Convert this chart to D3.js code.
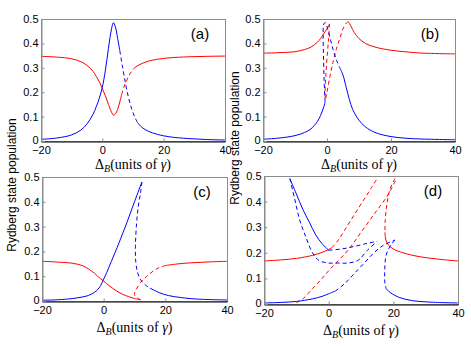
<!DOCTYPE html>
<html>
<head>
<meta charset="utf-8">
<script src="https://cdn.jsdelivr.net/npm/d3@7"></script>
<style>
  body { margin: 0; background: #fff; }
  svg { display: block; }
  .tick text { font-family: "Liberation Sans", Arial, sans-serif; font-size: 11px; fill: #000; }
</style>
</head>
<body>
<script>
var xTicks = [-20, 0, 20, 40];
var yTicks = [0, 0.1, 0.2, 0.3, 0.4, 0.5];
var panelNames = ['(a)', '(b)', '(c)', '(d)'];
var yLabel = 'Rydberg state population';

// panel (a)
var aRed1 = [[-20,0.347],[-15,0.344],[-10,0.337],[-7,0.325],[-5,0.31],[-3,0.285],[-2,0.265],[-1,0.243],[0,0.215],[1,0.185],[2,0.15],[3,0.118],[3.6,0.106],[4.2,0.11],[5,0.13],[5.8,0.165],[6.3,0.19]];
var aRed2 = [[6.3,0.19],[7,0.22],[8,0.25],[9,0.275],[10,0.293]];
var aRed3 = [[10,0.293],[11,0.305],[13,0.318],[15,0.327],[18,0.335],[22,0.341],[28,0.345],[34,0.347],[40,0.348]];
var aBlue1 = [[-20,0.007],[-15,0.012],[-10,0.025],[-7,0.045],[-5,0.07],[-3,0.11],[-2,0.14],[-1,0.175],[0,0.22],[1,0.29],[2,0.38],[3,0.46],[3.6,0.485],[4.2,0.47],[5,0.42],[5.7,0.37]];
var aBlue2 = [[5.7,0.37],[6.5,0.31],[7.5,0.24],[8.5,0.18],[9.5,0.135],[10.5,0.1],[11.5,0.075]];
var aBlue3 = [[11.5,0.075],[13,0.055],[15,0.04],[18,0.027],[22,0.017],[28,0.01],[34,0.006],[40,0.004]];

// panel (b)
var bRed1 = [[-20,0.36],[-15,0.362],[-10,0.366],[-7,0.375],[-5,0.385],[-3,0.405],[-2,0.42],[-1,0.44],[0,0.46],[0.8,0.48]];
var bRed2 = [[0.8,0.48],[0.5,0.42],[0,0.34],[-0.4,0.26],[-0.6,0.2],[-0.5,0.17],[0,0.2],[1,0.27],[2,0.33],[3,0.38],[4,0.42],[5,0.46],[5.8,0.48]];
var bRed3 = [[5.8,0.48],[6.6,0.488],[7.5,0.47],[8.5,0.445],[10,0.42],[12,0.4],[15,0.385],[20,0.372],[25,0.365],[30,0.36],[40,0.357]];
var bBlue1 = [[-20,0.007],[-15,0.012],[-10,0.022],[-7,0.035],[-5,0.05],[-3,0.08],[-2,0.105],[-1,0.14],[-0.6,0.16]];
var bBlue2 = [[-0.6,0.16],[-0.9,0.25],[-1.1,0.35],[-1.2,0.43],[-1,0.48],[-0.5,0.485],[0.2,0.46],[1,0.42],[2,0.37],[3,0.33],[4,0.3]];
var bBlue3 = [[4,0.3],[5,0.27],[6,0.22],[7,0.17],[8,0.13],[10,0.085],[12,0.058],[15,0.035],[20,0.018],[25,0.011],[30,0.008],[40,0.005]];

// panel (c)
var cRed1 = [[-20,0.16],[-15,0.157],[-10,0.152],[-7,0.143],[-5,0.13],[-3,0.112],[-2,0.1],[-1,0.09],[0,0.08],[2,0.06],[4,0.042],[6,0.028],[8,0.018],[10,0.01],[12,0.005]];
var cRed2 = [[12,0.005],[11,0.012],[10,0.025],[10.5,0.045],[12,0.075],[14,0.1],[16,0.12],[18,0.135],[20,0.143]];
var cRed3 = [[20,0.143],[23,0.148],[26,0.152],[30,0.155],[35,0.158],[40,0.16]];
var cBlue1 = [[-20,0.003],[-15,0.005],[-10,0.01],[-7,0.016],[-5,0.022],[-3,0.035],[-2,0.045],[-1,0.062],[0,0.088],[1,0.115],[2.5,0.16],[5,0.235],[7.5,0.315],[10,0.4],[12.4,0.48]];
var cBlue2 = [[12.4,0.48],[12,0.44],[11.2,0.38],[10.6,0.3],[10.3,0.22],[10.4,0.16],[11,0.115],[12,0.085],[13.5,0.065],[15,0.052]];
var cBlue3 = [[15,0.052],[18,0.034],[21,0.022],[25,0.014],[30,0.008],[40,0.004]];

// panel (d)
var dRed1 = [[-20,0.168],[-15,0.172],[-10,0.178],[-5,0.19],[-2,0.202],[0,0.213],[1,0.22]];
var dRed2 = [[1,0.22],[3,0.25],[5,0.29],[8,0.35],[11,0.41],[13,0.45],[15,0.49]];
var dRed3 = [[-10,0.005],[-8,0.02],[-5,0.06],[-2,0.1],[0,0.13],[3,0.17],[6,0.21],[10,0.28],[14,0.35],[18,0.42],[21,0.49]];
var dRed4 = [[20.5,0.49],[19,0.45],[18,0.39],[17.5,0.33],[17.4,0.28]];
var dRed5 = [[17.4,0.28],[17.7,0.25],[18.5,0.23],[20,0.215],[23,0.2],[28,0.185],[34,0.175],[40,0.168]];
var dBlue1 = [[-20,0.004],[-15,0.006],[-10,0.01],[-5,0.02],[-2,0.03],[0,0.04],[2,0.05]];
var dBlue2 = [[2,0.05],[5,0.08],[8,0.12],[11,0.16],[14,0.2],[17,0.23],[20.5,0.25]];
var dBlue3 = [[-12,0.49],[-10,0.43],[-8,0.37],[-6,0.32],[-4,0.27],[-2,0.235],[0,0.21]];
var dBlue4 = [[-12,0.49],[-10.5,0.41],[-9,0.33],[-7,0.26],[-5,0.2],[-3,0.17],[0,0.16],[3,0.16],[6,0.16],[9,0.17],[12,0.21],[15,0.245]];
var dBlue5 = [[20.5,0.25],[19.5,0.235],[18.3,0.21],[17.6,0.18],[17.4,0.15],[17.3,0.12],[17.4,0.08],[17.8,0.06]];
var dBlue6 = [[17.8,0.06],[19,0.045],[22,0.025],[26,0.013],[32,0.007],[40,0.004]];
var dBlue7 = [[0,0.21],[4,0.215],[8,0.225],[12,0.237],[15,0.245]];

var panels = [
  { box: [41, 225, 19, 141], name: panelNames[0], curves: [
      { d: aRed1, c: 'red' }, { d: aRed2, c: 'red', dash: true }, { d: aRed3, c: 'red' },
      { d: aBlue1, c: 'blue' }, { d: aBlue2, c: 'blue', dash: true }, { d: aBlue3, c: 'blue' }] },
  { box: [263, 455, 19, 141], name: panelNames[1], curves: [
      { d: bRed1, c: 'red' }, { d: bRed2, c: 'red', dash: true }, { d: bRed3, c: 'red' },
      { d: bBlue1, c: 'blue' }, { d: bBlue2, c: 'blue', dash: true }, { d: bBlue3, c: 'blue' }] },
  { box: [42, 227, 177, 301], name: panelNames[2], curves: [
      { d: cRed1, c: 'red' }, { d: cRed2, c: 'red', dash: true }, { d: cRed3, c: 'red' },
      { d: cBlue1, c: 'blue' }, { d: cBlue2, c: 'blue', dash: true }, { d: cBlue3, c: 'blue' }] },
  { box: [264, 458, 176, 304], name: panelNames[3], curves: [
      { d: dRed1, c: 'red' }, { d: dRed2, c: 'red', dash: true }, { d: dRed3, c: 'red', dash: true },
      { d: dRed4, c: 'red', dash: true }, { d: dRed5, c: 'red' },
      { d: dBlue1, c: 'blue' }, { d: dBlue2, c: 'blue', dash: true }, { d: dBlue3, c: 'blue' },
      { d: dBlue4, c: 'blue', dash: true }, { d: dBlue5, c: 'blue', dash: true }, { d: dBlue6, c: 'blue' },
      { d: dBlue7, c: 'blue', dash: true }] }
];

var colors = { red: '#ff0000', blue: '#0000ff' };

var svg = d3.select('body').append('svg')
    .attr('width', 471)
    .attr('height', 346);

panels.forEach(function(p, i) {
    var x = d3.scaleLinear().domain([-20, 40]).range([p.box[0], p.box[1]]);
    var y = d3.scaleLinear().domain([0, 0.5]).range([p.box[3], p.box[2]]);
    var g = svg.append('g');

    var line = d3.line()
        .curve(d3.curveCatmullRom)
        .x(function(d) { return x(d[0]); })
        .y(function(d) { return y(d[1]); });

    // frame
    g.append('rect')
        .attr('x', p.box[0] + 0.5)
        .attr('y', p.box[2] + 0.5)
        .attr('width', p.box[1] - p.box[0])
        .attr('height', p.box[3] - p.box[2])
        .attr('fill', 'none')
        .attr('stroke', '#8c8c8c')
        .attr('stroke-width', 1);

    p.curves.forEach(function(c) {
        g.append('path')
            .datum(c.d)
            .attr('fill', 'none')
            .attr('stroke', colors[c.c])
            .attr('stroke-width', 1)
            .attr('stroke-dasharray', c.dash ? '4,3' : null)
            .attr('d', line);
    });

    g.append('g')
        .attr('transform', 'translate(0,' + (p.box[3] + 0.5) + ')')
        .call(d3.axisBottom(x).tickValues(xTicks).tickSize(-3).tickPadding(5)
            .tickFormat(function(d) { return d < 0 ? '\u2212' + Math.abs(d) : d; }))
        .call(function(a) {
            a.select('.domain').attr('stroke', '#000');
            a.selectAll('.tick line').attr('stroke', '#8c8c8c');
        });

    g.append('g')
        .attr('transform', 'translate(' + (p.box[0] + 0.5) + ',0)')
        .call(d3.axisLeft(y).tickValues(yTicks).tickSize(-3).tickPadding(3)
            .tickFormat(function(d) { return d === 0 ? '0' : d3.format('.1f')(d); }))
        .call(function(a) {
            a.select('.domain').attr('stroke', '#8c8c8c');
            a.selectAll('.tick line').attr('stroke', '#8c8c8c');
            a.selectAll('.tick text').filter(function(d) { return d === 0; }).attr('dy', '0.2em');
        });

    g.append('text')
        .attr('x', p.box[1] - 25)
        .attr('y', p.box[2] + 20)
        .attr('text-anchor', 'middle')
        .style('font-family', 'Liberation Sans, Arial, sans-serif')
        .style('font-size', '15px')
        .text(p.name);

    var xl = g.append('text')
        .attr('x', (p.box[0] + p.box[1]) / 2)
        .attr('y', p.box[3] + (i < 2 ? 28 : 31))
        .attr('text-anchor', 'middle')
        .style('font-family', 'Liberation Serif, Times New Roman, serif')
        .style('font-size', '14px');
    xl.append('tspan').text('\u0394');
    xl.append('tspan').attr('dy', 3).style('font-size', '10px').style('font-style', 'italic').text('B');
    xl.append('tspan').attr('dy', -3).text('(units of ');
    xl.append('tspan').style('font-style', 'italic').text('\u03b3');
    xl.append('tspan').text(')');
});

// y labels
svg.append('text')
    .attr('transform', 'translate(16,185) rotate(-90)')
    .attr('text-anchor', 'middle')
    .style('font-family', 'Liberation Sans, Arial, sans-serif')
    .style('font-size', '12px')
    .text(yLabel);
svg.append('text')
    .attr('transform', 'translate(239,138) rotate(-90)')
    .attr('text-anchor', 'middle')
    .style('font-family', 'Liberation Sans, Arial, sans-serif')
    .style('font-size', '12px')
    .text(yLabel);
</script>
</body>
</html>
